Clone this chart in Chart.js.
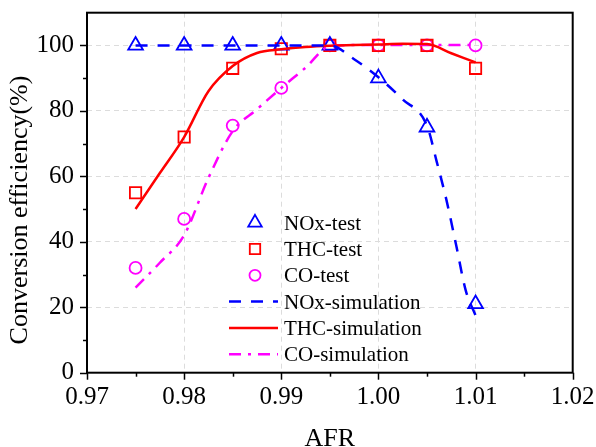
<!DOCTYPE html>
<html>
<head>
<meta charset="utf-8">
<script src="https://cdn.jsdelivr.net/npm/chart.js@4.4.1/dist/chart.umd.min.js"></script>
<style>
  html, body { margin: 0; padding: 0; background: #ffffff; }
  #wrap { width: 596px; height: 447px; }
</style>
</head>
<body>
<div id="wrap"><canvas id="c" width="596" height="447"></canvas></div>
<script>
// ---- data ----
const testAfr = [0.975, 0.98, 0.985, 0.99, 0.995, 1.00, 1.005, 1.01];
const noxTest = [100, 100, 100, 100, 100, 90, 75, 21];
const thcTest = [55, 72, 93, 99, 100, 100, 100, 93];
const coTest  = [32, 47, 75.5, 87, 100, 100, 100, 100];

const noxSimAfr = [0.975, 0.98, 0.985, 0.99, 0.995, 0.9975, 1.00, 1.0025, 1.005, 1.006, 1.007, 1.008, 1.009, 1.01];
const noxSim    = [100, 100, 100, 100, 100, 95.8, 90.3, 83.5, 75.5, 64.5, 52.8, 39, 25, 17.5];

const simAfr = [0.975, 0.9775, 0.98, 0.9825, 0.985, 0.9875, 0.99, 0.9925, 0.995, 0.9975, 1.00, 1.0025, 1.005, 1.0075, 1.01];
const thcSim = [50, 61, 72, 86, 93.7, 97.7, 98.8, 99.5, 99.9, 100.1, 100.3, 100.5, 100.4, 97.6, 94.8];
const coSim  = [26, 33.6, 42, 59.5, 73.8, 80.5, 87, 93.2, 99.8, 100.1, 100.1, 100.1, 100.1, 100.1, 100.1];

const seriesNames = ['NOx-test', 'THC-test', 'CO-test', 'NOx-simulation', 'THC-simulation', 'CO-simulation'];
const xTitle = 'AFR';
const yTitle = 'Conversion efficiency(%)';

// ---- helpers ----
const pts = (xs, ys) => xs.map((x, i) => ({ x: x, y: ys[i] }));
const FONT = "'Liberation Serif', 'Times New Roman', serif";
const BLUE = '#0000ff', RED = '#ff0000', MAG = '#ff00ff';
const isMajorX = v => Math.abs(v * 100 - Math.round(v * 100)) < 1e-6;
const isMajorY = v => Math.abs(v / 20 - Math.round(v / 20)) < 1e-6;

function testSet(label, xs, ys, color, style, radius) {
  return {
    label, data: pts(xs, ys), showLine: false,
    pointStyle: style, pointRadius: radius, pointHoverRadius: radius,
    pointBorderColor: color, pointBackgroundColor: 'rgba(0,0,0,0)',
    pointBorderWidth: 1.8, borderColor: color, backgroundColor: 'rgba(0,0,0,0)'
  };
}
function simSet(label, xs, ys, color, dash) {
  return {
    label, data: pts(xs, ys), showLine: true, pointRadius: 0, pointHoverRadius: 0,
    borderColor: color, backgroundColor: color, borderWidth: 2.5, borderDash: dash,
    cubicInterpolationMode: 'monotone', fill: false
  };
}

const datasets = [
  simSet(seriesNames[3], noxSimAfr, noxSim, BLUE, [12, 10]),
  simSet(seriesNames[4], simAfr, thcSim, RED, []),
  simSet(seriesNames[5], simAfr, coSim, MAG, [12, 7, 3, 7]),
  testSet(seriesNames[0], testAfr, noxTest, BLUE, 'triangle', 8.5),
  testSet(seriesNames[1], testAfr, thcTest, RED, 'rect', 8),
  testSet(seriesNames[2], testAfr, coTest, MAG, 'circle', 6)
];

// order of the legend entries (dataset indices)
const legendOrder = [3, 4, 5, 0, 1, 2];

function drawMarker(ctx, style, r, x, y) {
  ctx.beginPath();
  if (style === 'triangle') {
    for (let k = 0; k < 3; k++) {
      const a = k * 2 * Math.PI / 3;
      const px = x + Math.sin(a) * r, py = y - Math.cos(a) * r;
      if (k === 0) ctx.moveTo(px, py); else ctx.lineTo(px, py);
    }
    ctx.closePath();
  } else if (style === 'rect') {
    const s = Math.SQRT1_2 * r;
    ctx.rect(x - s, y - s, 2 * s, 2 * s);
  } else {
    ctx.arc(x, y, r, 0, 2 * Math.PI);
  }
  ctx.stroke();
}

const decorPlugin = {
  id: 'decor',
  afterDraw(chart) {
    const ctx = chart.ctx;
    const a = chart.chartArea;
    const xs = chart.scales.x, ys = chart.scales.y;
    ctx.save();
    ctx.strokeStyle = '#000';
    ctx.setLineDash([]);
    // tick marks (outward), major longer than minor
    ctx.lineWidth = 1.5;
    xs.ticks.forEach(t => {
      const px = Math.round(xs.getPixelForValue(t.value)) + 0.5;
      const len = isMajorX(t.value) ? 7 : 4;
      ctx.beginPath(); ctx.moveTo(px, a.bottom); ctx.lineTo(px, a.bottom + len); ctx.stroke();
    });
    ys.ticks.forEach(t => {
      if (t.value > 100) return;
      const py = Math.round(ys.getPixelForValue(t.value)) + 0.5;
      const len = isMajorY(t.value) ? 7 : 4;
      ctx.beginPath(); ctx.moveTo(a.left, py); ctx.lineTo(a.left - len, py); ctx.stroke();
    });
    // frame
    ctx.lineWidth = 2;
    ctx.strokeRect(a.left, a.top, a.right - a.left, a.bottom - a.top);

    // y axis title (rotated, placed as in the reference)
    ctx.save();
    ctx.fillStyle = '#000';
    ctx.font = '26px ' + FONT;
    ctx.textAlign = 'center';
    ctx.textBaseline = 'middle';
    ctx.translate(20, 210);
    ctx.rotate(-Math.PI / 2);
    ctx.fillText(yTitle, 0, 0);
    ctx.restore();

    // legend inside the plot
    const cx = 255, lineX1 = 229, lineX2 = 278, textX = 284, y0 = 222.7, step = 26.3;
    ctx.font = '21px ' + FONT;
    ctx.textBaseline = 'alphabetic';
    ctx.textAlign = 'left';
    legendOrder.forEach((di, row) => {
      const ds = chart.data.datasets[di];
      const y = y0 + row * step;
      if (ds.showLine === false) {
        ctx.strokeStyle = ds.pointBorderColor;
        ctx.lineWidth = ds.pointBorderWidth;
        ctx.setLineDash([]);
        drawMarker(ctx, ds.pointStyle, ds.pointRadius * 0.92, cx, y);
      } else {
        ctx.strokeStyle = ds.borderColor;
        ctx.lineWidth = ds.borderWidth;
        ctx.setLineDash(ds.borderDash || []);
        ctx.beginPath(); ctx.moveTo(lineX1, y); ctx.lineTo(lineX2, y); ctx.stroke();
        ctx.setLineDash([]);
      }
      ctx.fillStyle = '#000';
      ctx.fillText(ds.label, textX, y + 7);
    });
    ctx.restore();
  }
};

new Chart(document.getElementById('c'), {
  type: 'scatter',
  data: { datasets },
  plugins: [decorPlugin],
  options: {
    responsive: false,
    animation: false,
    devicePixelRatio: 1,
    layout: { padding: { top: 12.7, right: 23.3, left: 0, bottom: 0 } },
    plugins: { legend: { display: false }, tooltip: { enabled: false } },
    scales: {
      x: {
        type: 'linear', min: 0.97, max: 1.02,
        afterFit: s => { s.height = 74.3; s.paddingLeft = 0; s.paddingRight = 0; s.paddingTop = 0; s.paddingBottom = 0; },
        ticks: {
          stepSize: 0.005, autoSkip: false, maxRotation: 0, padding: 10,
          color: '#000', font: { family: FONT, size: 25 },
          callback: v => isMajorX(v) ? Number(v).toFixed(2) : ''
        },
        grid: {
          drawTicks: false, lineWidth: 1,
          color: c => (c.tick && isMajorX(c.tick.value)) ? '#dcdcdc' : 'rgba(0,0,0,0)'
        },
        border: { display: false, dash: [5, 4] },
        title: {
          display: true, text: xTitle, color: '#000',
          font: { family: FONT, size: 26, lineHeight: 1 }, padding: { top: 0, bottom: -5 }
        }
      },
      y: {
        type: 'linear', min: 0, max: 110,
        afterFit: s => { s.width = 87; s.paddingTop = 0; s.paddingBottom = 0; s.paddingLeft = 0; s.paddingRight = 0; },
        ticks: {
          stepSize: 10, autoSkip: false, padding: 13,
          color: '#000', font: { family: FONT, size: 25 },
          callback: v => (isMajorY(v) && v <= 100) ? String(v) : ''
        },
        grid: {
          drawTicks: false, lineWidth: 1,
          color: c => (c.tick && isMajorY(c.tick.value) && c.tick.value <= 100) ? '#dcdcdc' : 'rgba(0,0,0,0)'
        },
        border: { display: false, dash: [5, 4] },
        title: { display: false, text: yTitle }
      }
    }
  }
});
</script>
</body>
</html>
